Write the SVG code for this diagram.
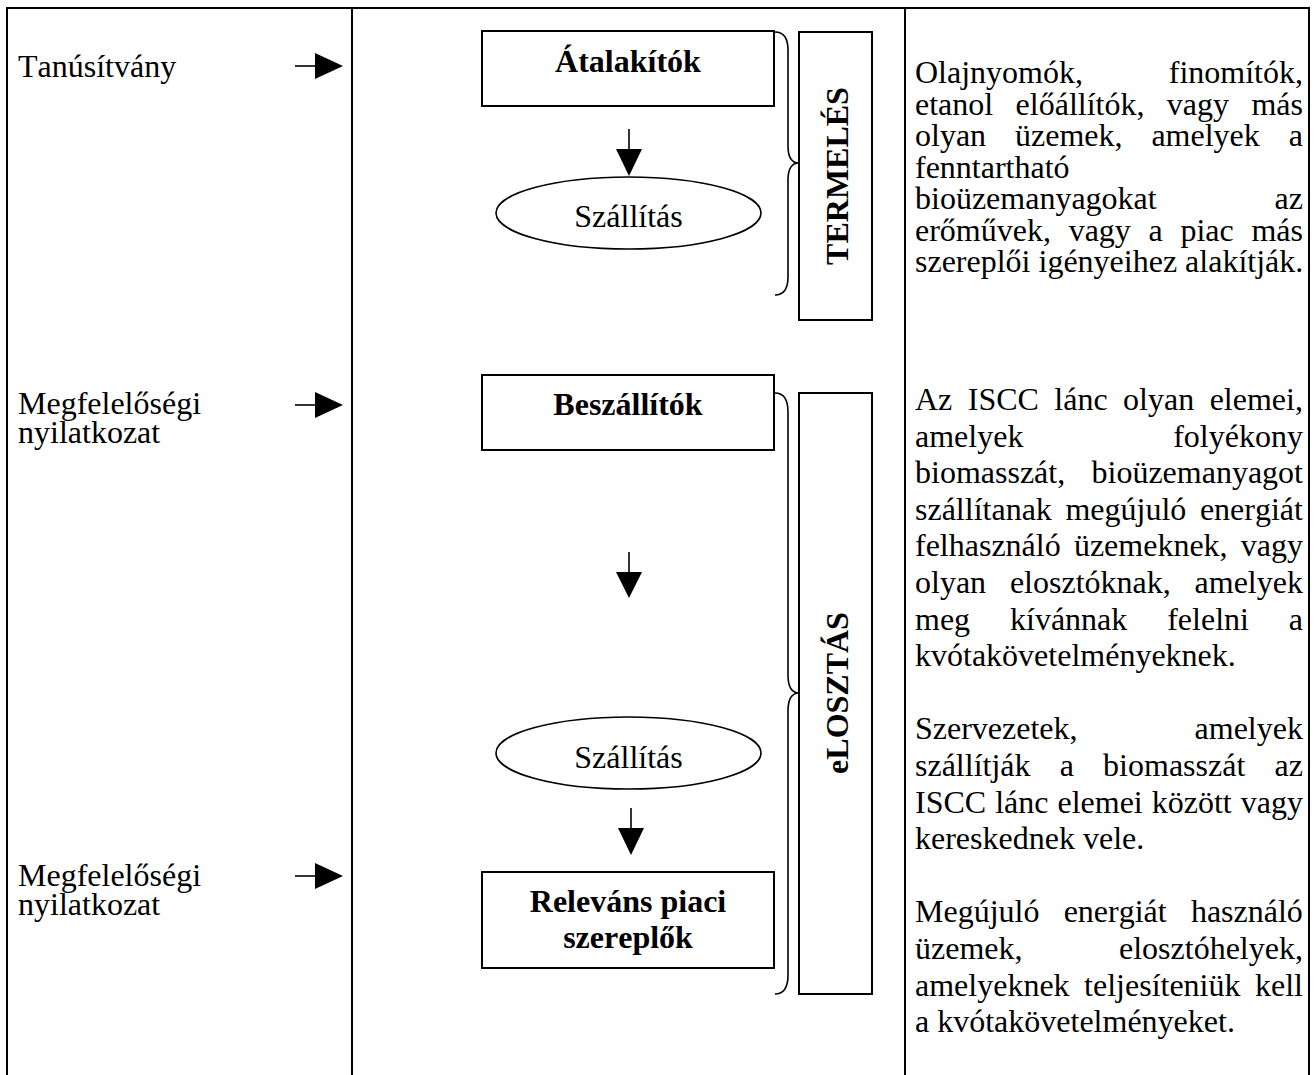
<svg xmlns="http://www.w3.org/2000/svg" width="1316" height="1075" viewBox="0 0 1316 1075">
<style>
text{font-family:"Liberation Serif","Times New Roman",serif;font-size:32px;fill:#000;font-kerning:none}
.b{font-weight:bold}
.c{text-anchor:middle}
.box{fill:#fff;stroke:#000;stroke-width:2}
.ell{fill:#fff;stroke:#000;stroke-width:1.6}
.grid{stroke:#000;stroke-width:2;fill:none}
.ln{stroke:#000;stroke-width:1.6;fill:none}
.hd{fill:#000}
</style>
<rect width="1316" height="1075" fill="#fff"/>
<g id="table">
<line class="grid" x1="6" y1="8" x2="1310" y2="8" stroke-width="2.6"/>
<line class="grid" x1="7" y1="7" x2="7" y2="1075"/>
<line class="grid" x1="352" y1="8" x2="352" y2="1075"/>
<line class="grid" x1="905" y1="8" x2="905" y2="1075"/>
<line class="grid" x1="1309" y1="7" x2="1309" y2="1075"/>
</g>
<g id="left-labels">
<text x="18" y="77">Tanúsítvány</text>
<text x="18" y="414">Megfelelőségi</text>
<text x="18" y="443">nyilatkozat</text>
<text x="18" y="886">Megfelelőségi</text>
<text x="18" y="915">nyilatkozat</text>
</g>
<g id="n-atalakitok"><rect class="box" x="482" y="31" width="292" height="75"/><text class="b c" x="628" y="72">Átalakítók</text></g>
<g id="n-szallitas1"><ellipse class="ell" cx="628.5" cy="213" rx="132.5" ry="36"/><text class="c" x="628.5" y="227">Szállítás</text></g>
<g id="n-termeles"><rect class="box" x="799" y="32" width="73" height="288"/><text class="b c" transform="translate(848,176) rotate(-90)">TERMELÉS</text></g>
<g id="n-beszallitok"><rect class="box" x="482" y="375" width="292" height="75"/><text class="b c" x="628" y="415">Beszállítók</text></g>
<g id="n-szallitas2"><ellipse class="ell" cx="628.5" cy="753" rx="132.5" ry="36"/><text class="c" x="628.5" y="768">Szállítás</text></g>
<g id="n-relevans"><rect class="box" x="482" y="872" width="292" height="96"/><text class="b c" x="628" y="912">Releváns piaci</text><text class="b c" x="628" y="948">szereplők</text></g>
<g id="n-elosztas"><rect class="box" x="799" y="393" width="73" height="601"/><text class="b c" transform="translate(848,693) rotate(-90)">eLOSZTÁS</text></g>
<g id="connectors">
<line class="ln" x1="295" y1="66" x2="317" y2="66"/><polygon class="hd" points="315,53 343,66 315,79"/>
<line class="ln" x1="295" y1="405" x2="317" y2="405"/><polygon class="hd" points="315,392 343,405 315,418"/>
<line class="ln" x1="295" y1="876" x2="317" y2="876"/><polygon class="hd" points="315,863 343,876 315,889"/>
<line class="ln" x1="629" y1="129" x2="629" y2="151"/><polygon class="hd" points="616,149 642,149 629,176"/>
<line class="ln" x1="629" y1="552" x2="629" y2="574"/><polygon class="hd" points="616,572 642,572 629,598"/>
<line class="ln" x1="631" y1="808" x2="631" y2="830"/><polygon class="hd" points="618,828 644,828 631,855"/>
<path class="ln" d="M775,32 Q788,32 788,50 L788,146 Q788,163 799,163 Q788,163 788,180 L788,277 Q788,295 775,295"/>
<path class="ln" d="M775,393 Q788,393 788,412 L788,675 Q788,693 799,693 Q788,693 788,711 L788,975 Q788,994 775,994"/>
</g>
<g id="right-text">
<text x="915" y="83" word-spacing="77.8">Olajnyomók, finomítók,</text>
<text x="915" y="114.5" word-spacing="14.4">etanol előállítók, vagy más</text>
<text x="915" y="146" word-spacing="20.9">olyan üzemek, amelyek a</text>
<text x="915" y="177.5">fenntartható</text>
<text x="915" y="209" word-spacing="109.9">bioüzemanyagokat az</text>
<text x="915" y="240.5" word-spacing="9.7">erőművek, vagy a piac más</text>
<text x="915" y="272">szereplői igényeihez alakítják.</text>
<text x="915" y="410" word-spacing="7.45">Az ISCC lánc olyan elemei,</text>
<text x="915" y="446.6" word-spacing="141.8">amelyek folyékony</text>
<text x="915" y="483.2" word-spacing="18.3">biomasszát, bioüzemanyagot</text>
<text x="915" y="519.8" word-spacing="5.6">szállítanak megújuló energiát</text>
<text x="915" y="556.4" word-spacing="5.2">felhasználó üzemeknek, vagy</text>
<text x="915" y="593" word-spacing="15.8">olyan elosztóknak, amelyek</text>
<text x="915" y="629.6" word-spacing="31.9">meg kívánnak felelni a</text>
<text x="915" y="666.2">kvótakövetelményeknek.</text>
<text x="915" y="739.4" word-spacing="109">Szervezetek, amelyek</text>
<text x="915" y="776" word-spacing="21.2">szállítják a biomasszát az</text>
<text x="915" y="812.6" word-spacing="1">ISCC lánc elemei között vagy</text>
<text x="915" y="849.2">kereskednek vele.</text>
<text x="915" y="922.4" word-spacing="16.2">Megújuló energiát használó</text>
<text x="915" y="959" word-spacing="88.5">üzemek, elosztóhelyek,</text>
<text x="915" y="995.6" word-spacing="6.5">amelyeknek teljesíteniük kell</text>
<text x="915" y="1032.2">a kvótakövetelményeket.</text>
</g>
</svg>
